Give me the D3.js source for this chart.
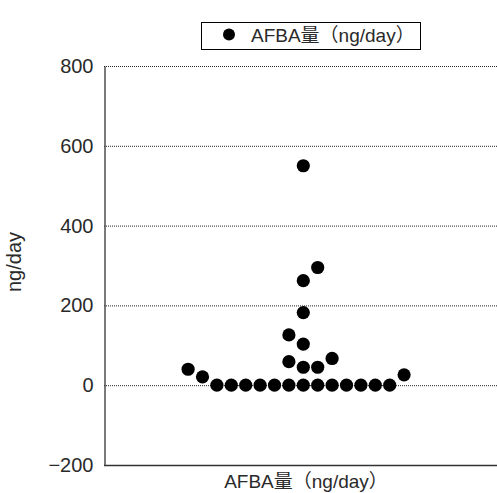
<!DOCTYPE html>
<html lang="ja">
<head>
    <meta charset="UTF-8">
    <title>AFBA量</title>
    <script src="https://d3js.org/d3.v7.min.js"></script>
    <style>
        body { margin: 0; background: #fff; }
        text { font-family: "Liberation Sans", Arial, "Noto Sans CJK JP", sans-serif; fill: #2a2a2a; }
    </style>
</head>
<body>
    <div id="chart"></div>

    <script>
        // AFBA量 (ng/day), one dot per sample
        const values = [0, 0, 0, 0, 0, 0, 0, 0, 0, 0, 0, 0, 0,
                        21, 40, 26, 59, 45, 45, 67, 103, 126, 182, 262, 295, 550];
        // column slot of each dot in the dot plot (0 = centre column)
        const slots  = [-6, -5, -4, -3, -2, -1, 0, 1, 2, 3, 4, 5, 6,
                        -7, -8, 7, -1, 0, 1, 2, 0, -1, 0, 0, 1, 0];
        const yTicks = [-200, 0, 200, 400, 600, 800];
        const seriesName = "AFBA量（ng/day）";
        const yTitle = "ng/day";

        const width = 497, height = 493;
        const plotLeft = 104, plotTop = 66, plotBottom = 465, plotRight = 500;

        const svg = d3.select("#chart").append("svg")
            .attr("width", width)
            .attr("height", height);

        const y = d3.scaleLinear().domain([-200, 800]).range([plotBottom, plotTop]);
        const x = d3.scaleLinear().domain([-8, 7]).range([188.1, 188.1 + 15 * 14.4]);

        // dotted gridlines
        svg.append("g")
            .selectAll("line")
            .data(yTicks.filter(d => d > -200))
            .enter()
            .append("line")
            .attr("x1", plotLeft)
            .attr("x2", plotRight)
            .attr("y1", d => y(d) + 0.5)
            .attr("y2", d => y(d) + 0.5)
            .attr("stroke", "#222")
            .attr("stroke-width", 1)
            .attr("stroke-dasharray", "1,1");

        // y axis
        const yAxis = svg.append("g")
            .attr("transform", `translate(${plotLeft + 0.5},0)`)
            .call(d3.axisLeft(y).tickValues(yTicks).tickSize(0).tickPadding(11)
                .tickFormat(d => d < 0 ? "\u2212" + Math.abs(d) : d));
        yAxis.select(".domain").attr("stroke", "#333").attr("stroke-width", 1.3);
        yAxis.selectAll("text")
            .attr("font-size", 20)
            .attr("font-family", null)
            .attr("fill", null);

        // bottom axis line
        svg.append("line")
            .attr("x1", plotLeft)
            .attr("x2", plotRight)
            .attr("y1", plotBottom + 0.5)
            .attr("y2", plotBottom + 0.5)
            .attr("stroke", "#333")
            .attr("stroke-width", 1.3);

        // dots
        svg.append("g")
            .selectAll("circle")
            .data(values)
            .enter()
            .append("circle")
            .attr("cx", (d, i) => x(slots[i]))
            .attr("cy", d => y(d))
            .attr("r", 6.6)
            .attr("fill", "#000");

        // axis titles
        svg.append("text")
            .attr("transform", "translate(21,262) rotate(-90)")
            .attr("text-anchor", "middle")
            .attr("font-size", 20)
            .text(yTitle);

        svg.append("text")
            .attr("x", 306)
            .attr("y", 488)
            .attr("text-anchor", "middle")
            .attr("font-size", 19)
            .text(seriesName);

        // legend
        svg.append("rect")
            .attr("x", 201.5)
            .attr("y", 22.5)
            .attr("width", 219)
            .attr("height", 27)
            .attr("fill", "#fff")
            .attr("stroke", "#000");
        svg.append("circle")
            .attr("cx", 229)
            .attr("cy", 34.5)
            .attr("r", 6)
            .attr("fill", "#000");
        svg.append("text")
            .attr("x", 251)
            .attr("y", 42)
            .attr("font-size", 19)
            .text(seriesName);
    </script>
</body>
</html>
